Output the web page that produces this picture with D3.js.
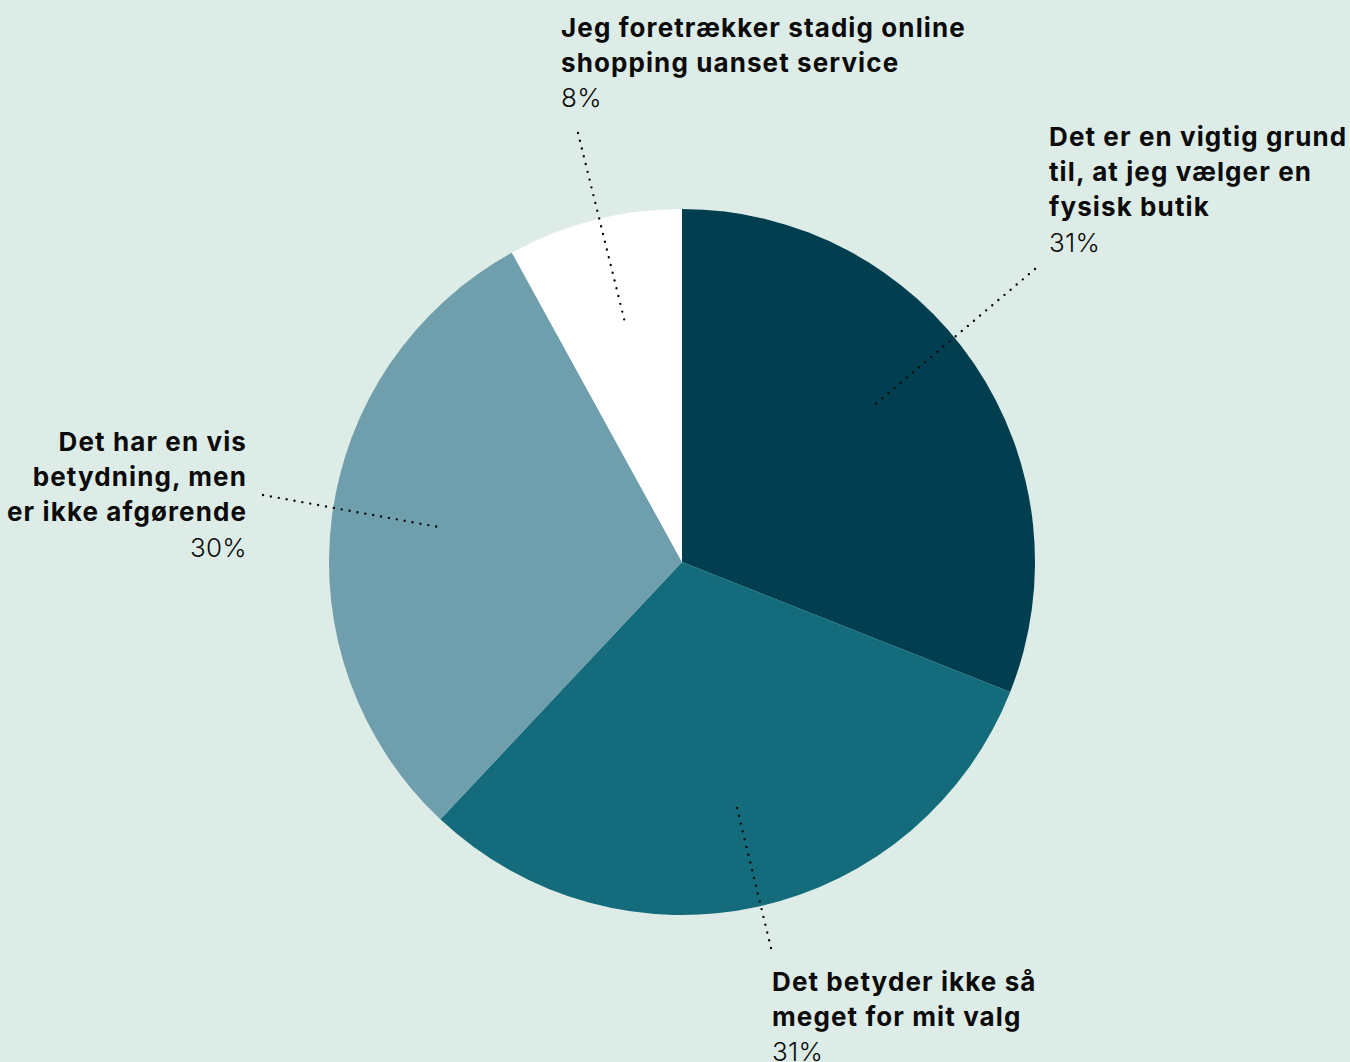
<!DOCTYPE html>
<html>
<head>
<meta charset="utf-8">
<script src="https://cdn.jsdelivr.net/npm/d3@7"></script>
<style>
  html, body { margin: 0; padding: 0; background: #deece7; }
  svg { display: block; }
  .lbl-title { font-family: Inter, "Noto Sans", sans-serif; font-weight: 700; font-size: 26px; fill: #0b0b0b; letter-spacing: 1.1px; }
  .lbl-value { font-family: Inter, "Noto Sans", sans-serif; font-weight: 300; font-size: 26px; fill: #0b0b0b; letter-spacing: 0.3px; }
</style>
</head>
<body>
<svg id="chart" width="1350" height="1062"></svg>
<script>
// Answer categories, in clockwise order from 12 o'clock
const categories = [
  ["Det er en vigtig grund", "til, at jeg vælger en", "fysisk butik"],
  ["Det betyder ikke så", "meget for mit valg"],
  ["Det har en vis", "betydning, men", "er ikke afgørende"],
  ["Jeg foretrækker stadig online", "shopping uanset service"]
];
// Share of respondents, percent
const values = [31, 31, 30, 8];
const valueLabels = ["31%", "31%", "30%", "8%"];
const colors = ["#013f50", "#146b7b", "#6f9ead", "#ffffff"];

// Label placement: text anchor point, alignment, leader start, and angle nudge (deg) for leader end
const labelLayout = [
  { x: 1049, y: 146, anchor: "start", lead: [1035, 269], nudge: -5 },
  { x: 772,  y: 991, anchor: "start", lead: [771, 948],  nudge: 0 },
  { x: 247,  y: 451, anchor: "end",   lead: [263, 495],  nudge: 1 },
  { x: 561,  y: 37,  anchor: "start", lead: [578, 133],  nudge: 1 }
];

const svg = d3.select("#chart");
const cx = 682, cy = 562, R = 353, lineH = 35.2;

const pie = d3.pie().sort(null).value(d => d)(values);
const arc = d3.arc().innerRadius(0).outerRadius(R);

const g = svg.append("g").attr("transform", `translate(${cx},${cy})`);
g.selectAll("path.slice")
  .data(pie)
  .join("path")
  .attr("class", "slice")
  .attr("d", arc)
  .attr("fill", (d, i) => colors[i]);

// Dotted leader lines from label to a point inside each slice
const leadR = 247;
pie.forEach((d, i) => {
  const L = labelLayout[i];
  const a = (d.startAngle + d.endAngle) / 2 + L.nudge * Math.PI / 180;
  const ex = cx + leadR * Math.sin(a), ey = cy - leadR * Math.cos(a);
  svg.append("line")
    .attr("x1", L.lead[0]).attr("y1", L.lead[1])
    .attr("x2", ex).attr("y2", ey)
    .attr("stroke", "#0b0b0b")
    .attr("stroke-width", 2.4)
    .attr("stroke-linecap", "round")
    .attr("stroke-dasharray", "0 8");
});

// Labels
categories.forEach((lines, i) => {
  const L = labelLayout[i];
  const t = svg.append("g");
  lines.forEach((s, j) => {
    t.append("text").attr("class", "lbl-title")
      .attr("x", L.x).attr("y", L.y + j * lineH)
      .attr("text-anchor", L.anchor).text(s);
  });
  t.append("text").attr("class", "lbl-value")
    .attr("x", L.x).attr("y", L.y + lines.length * lineH)
    .attr("text-anchor", L.anchor).text(valueLabels[i]);
});
</script>
</body>
</html>
